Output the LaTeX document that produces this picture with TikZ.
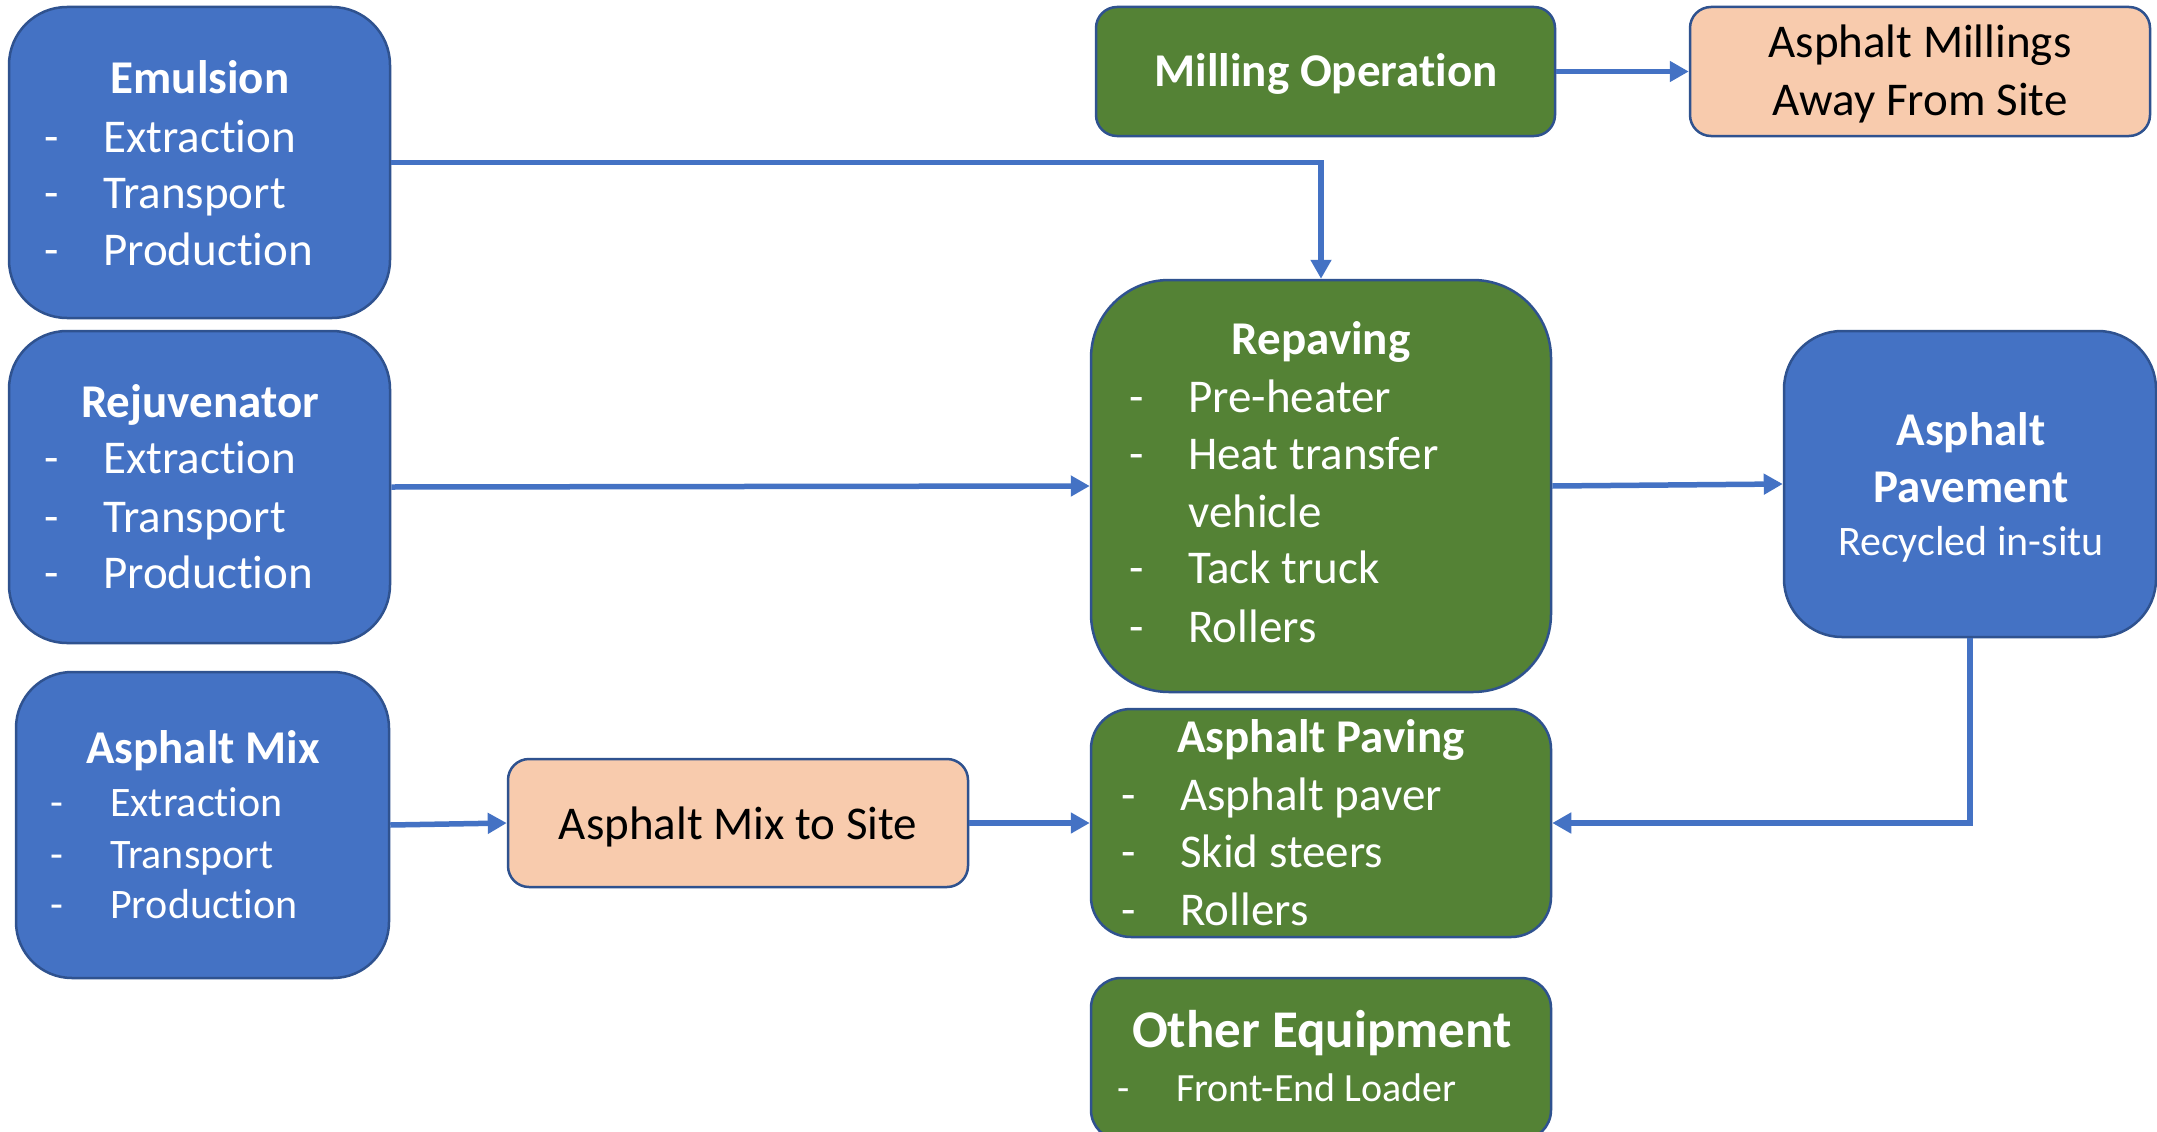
\documentclass[tikz,border=0pt]{standalone}
\usepackage{fontspec}
\setmainfont{Carlito}[Ligatures={NoCommon}]
\usetikzlibrary{arrows.meta}
\definecolor{boxblue}{HTML}{4472C4}
\definecolor{boxgreen}{HTML}{548235}
\definecolor{boxpeach}{HTML}{F8CBAD}
\definecolor{bord}{HTML}{2F528F}
\definecolor{arrblue}{HTML}{4472C4}
\tikzset{
  basebox/.style={draw=bord, line width=2.5pt, inner sep=0pt},
  bluebox/.style={basebox, fill=boxblue},
  greenbox/.style={basebox, fill=boxgreen},
  peachbox/.style={basebox, fill=boxpeach},
  txt/.style={inner sep=0pt, text=white, font=\fontsize{47}{56}\selectfont},
  btxt/.style={txt, font=\fontsize{47}{56}\selectfont\bfseries},
  smtxt/.style={txt, font=\fontsize{42}{50}\selectfont},
  ktxt/.style={txt, text=black},
  arr/.style={draw=arrblue, line width=5.5pt, -{Triangle[length=19pt,width=20pt]}}
}
\begin{document}
\begin{tikzpicture}[x=1pt,y=-1pt]
\clip (0,0) rectangle (2157,1132);
\fill[white] (0,0) rectangle (2157,1132);

% boxes
\node[bluebox, rounded corners=58pt, minimum width=381pt, minimum height=311pt] (emu) at (199.5,162.5) {};
\node[bluebox, rounded corners=58pt, minimum width=381pt, minimum height=312pt] (rej) at (199.5,487) {};
\node[bluebox, rounded corners=56pt, minimum width=373pt, minimum height=306pt] (mix) at (202.5,825) {};
\node[peachbox, rounded corners=21pt, minimum width=460pt, minimum height=128pt] (site) at (738,823) {};
\node[greenbox, rounded corners=21pt, minimum width=459pt, minimum height=129pt] (mill) at (1325.5,71.5) {};
\node[peachbox, rounded corners=21pt, minimum width=460pt, minimum height=129pt] (mills) at (1920,71.5) {};
\node[greenbox, rounded corners=78pt, minimum width=460pt, minimum height=412pt] (rep) at (1321,486) {};
\node[bluebox, rounded corners=58pt, minimum width=372pt, minimum height=306pt] (pav) at (1970,484) {};
\node[greenbox, rounded corners=40pt, minimum width=460pt, minimum height=228pt] (paving) at (1321,823) {};
\node[greenbox, rounded corners=30pt, minimum width=460pt, minimum height=162pt] (oth) at (1321,1059) {};

% Emulsion
\node[btxt, anchor=base] (emuT) at (200,93) {Emulsion};
\node[txt, anchor=base west] (emuD1) at (44,152) {-};
\node[txt, anchor=base west] (emuD2) at (44,208) {-};
\node[txt, anchor=base west] (emuD3) at (44,265) {-};
\node[txt, anchor=base west] (emuI1) at (103,152) {Extraction};
\node[txt, anchor=base west] (emuI2) at (103,208) {Transport};
\node[txt, anchor=base west] (emuI3) at (103,265) {Production};

% Rejuvenator
\node[btxt, anchor=base] (rejT) at (200,417) {Rejuvenator};
\node[txt, anchor=base west] (rejD1) at (44,473) {-};
\node[txt, anchor=base west] (rejD2) at (44,532) {-};
\node[txt, anchor=base west] (rejD3) at (44,588) {-};
\node[txt, anchor=base west] (rejI1) at (103,473) {Extraction};
\node[txt, anchor=base west] (rejI2) at (103,532) {Transport};
\node[txt, anchor=base west] (rejI3) at (103,588) {Production};

% Asphalt Mix
\node[btxt, anchor=base] (mixT) at (203,763) {Asphalt Mix};
\node[smtxt, anchor=base west] (mixD1) at (50,816) {-};
\node[smtxt, anchor=base west] (mixD2) at (50,868) {-};
\node[smtxt, anchor=base west] (mixD3) at (50,918) {-};
\node[smtxt, anchor=base west] (mixI1) at (110,816) {Extraction};
\node[smtxt, anchor=base west] (mixI2) at (110,868) {Transport};
\node[smtxt, anchor=base west] (mixI3) at (110,918) {Production};

% Asphalt Mix to Site
\node[ktxt, anchor=base] (siteT) at (738,839) {Asphalt Mix to Site};

% Milling
\node[btxt, anchor=base] (millT) at (1326,86) {Milling Operation};
\node[ktxt, anchor=base] (millsT1) at (1920,58) {Asphalt Millings};
\node[ktxt, anchor=base] (millsT2) at (1920,115) {Away From Site};

% Repaving
\node[btxt, anchor=base] (repT) at (1321,354) {Repaving};
\node[txt, anchor=base west] (repD1) at (1129,412) {-};
\node[txt, anchor=base west] (repD2) at (1129,469) {-};
\node[txt, anchor=base west] (repD4) at (1129,583) {-};
\node[txt, anchor=base west] (repD5) at (1129,642) {-};
\node[txt, anchor=base west] (repI1) at (1188,412) {Pre-heater};
\node[txt, anchor=base west] (repI2) at (1188,469) {Heat transfer};
\node[txt, anchor=base west] (repI3) at (1188,527) {vehicle};
\node[txt, anchor=base west] (repI4) at (1188,583) {Tack truck};
\node[txt, anchor=base west] (repI5) at (1188,642) {Rollers};

% Asphalt Pavement
\node[btxt, anchor=base] (pavT1) at (1971,445) {Asphalt};
\node[btxt, anchor=base] (pavT2) at (1971,502) {Pavement};
\node[smtxt, anchor=base] (pavT3) at (1971,555) {Recycled in-situ};

% Asphalt Paving
\node[btxt, anchor=base] (pvT) at (1321,752) {Asphalt Paving};
\node[txt, anchor=base west] (pvD1) at (1121,810) {-};
\node[txt, anchor=base west] (pvD2) at (1121,867) {-};
\node[txt, anchor=base west] (pvD3) at (1121,925) {-};
\node[txt, anchor=base west] (pvI1) at (1180,810) {Asphalt paver};
\node[txt, anchor=base west] (pvI2) at (1180,867) {Skid steers};
\node[txt, anchor=base west] (pvI3) at (1180,925) {Rollers};

% Other Equipment
\node[txt, anchor=base, font=\fontsize{53}{62}\selectfont\bfseries] (othT) at (1322,1047) {Other Equipment};
\node[txt, anchor=base west, font=\fontsize{40}{48}\selectfont] (othD) at (1117,1101) {-};
\node[txt, anchor=base west, font=\fontsize{40}{48}\selectfont] (othI) at (1176,1101) {Front-End Loader};

% connectors
\draw[arr] (emu.east) -| (rep.north);
\draw[arr] (rej.east) -- (rep.west);
\draw[arr] (rep.east) -- (pav.west);
\draw[arr] (pav.south) |- (paving.east);
\draw[arr] (mix.east) -- (site.west);
\draw[arr] (site.east) -- (paving.west);
\draw[arr] (mill.east) -- (mills.west);
\end{tikzpicture}
\end{document}
